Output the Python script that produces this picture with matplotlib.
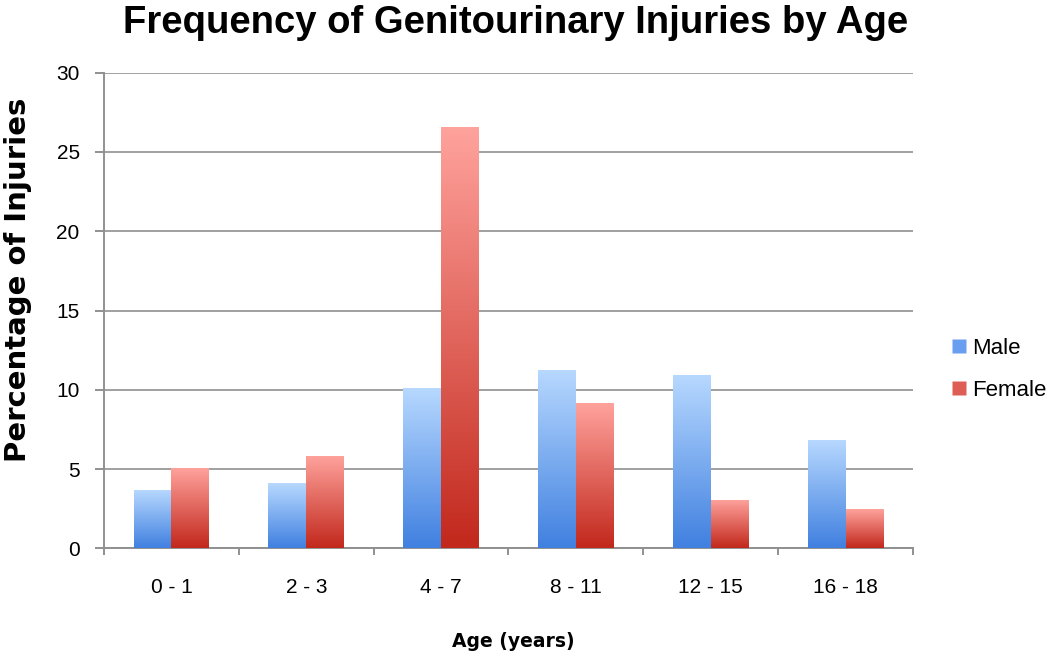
import numpy as np
import matplotlib
matplotlib.use("Agg")
import matplotlib.pyplot as plt
from matplotlib.colors import LinearSegmentedColormap
from matplotlib.lines import Line2D

categories = ["0 - 1", "2 - 3", "4 - 7", "8 - 11", "12 - 15", "16 - 18"]
male = [3.7, 4.1, 10.1, 11.25, 10.95, 6.85]
female = [5.05, 5.85, 26.6, 9.15, 3.05, 2.45]
yticks = [0, 5, 10, 15, 20, 25, 30]

plt.rcParams['font.family'] = ['Liberation Sans', 'DejaVu Sans']

W, H = 1050, 655
fig = plt.figure(figsize=(W / 100, H / 100), dpi=100)
ax = fig.add_axes([104 / W, 1 - 548.3 / H, (913 - 104) / W, (548.3 - 72.7) / H])

x = np.arange(len(categories))
w = 0.28
bm = ax.bar(x - w / 2, male, width=w, color="none", zorder=3)
bf = ax.bar(x + w / 2, female, width=w, color="none", zorder=3)

blue = LinearSegmentedColormap.from_list("b", ["#4080e0", "#b8d9ff"])
red = LinearSegmentedColormap.from_list("r", ["#c2281c", "#ffa39d"])
grad = np.linspace(0, 1, 256).reshape(-1, 1)

def paint(bars, cmap):
    for b in bars:
        x0, y0 = b.get_x(), b.get_y()
        bw, bh = b.get_width(), b.get_height()
        im = ax.imshow(grad, cmap=cmap, origin="lower", aspect="auto",
                       extent=[x0, x0 + bw, y0, y0 + bh], zorder=3,
                       interpolation="bilinear")
        im.set_clip_path(b)

paint(bm, blue)
paint(bf, red)

ax.set_xlim(-0.5, len(categories) - 0.5)
ax.set_ylim(0, 30)
ax.set_yticks(yticks)
ax.set_yticklabels([str(t) for t in yticks], fontsize=15)
ax.yaxis.grid(True, color="#a0a0a0", linewidth=1.4, zorder=0)
ax.set_axisbelow(True)

ax.set_xticks(x)
ax.set_xticklabels(categories, fontsize=15)
ax.tick_params(axis="x", length=0, pad=21.5)
ax.set_xticks(np.arange(-0.5, len(categories), 1.0), minor=True)
ax.tick_params(axis="x", which="minor", length=5, width=1.4, color="#909090")
ax.tick_params(axis="y", length=6.5, width=1.4, color="#909090", pad=11)

for s in ["top", "right"]:
    ax.spines[s].set_visible(False)
for s in ["left", "bottom"]:
    ax.spines[s].set_color("#909090")
    ax.spines[s].set_linewidth(1.4)

fig.text(18.5 / W, 1 - 280 / H, "Percentage of Injuries", rotation=90,
         ha="center", va="center", fontsize=21, fontweight="bold",
         family=["DejaVu Sans"])
fig.text(513 / W, 1 - 647 / H, "Age (years)", ha="center", va="baseline",
         fontsize=13.5, fontweight="bold", family=["DejaVu Sans"])

fig.text(516 / W, 1 - 33 / H, "Frequency of Genitourinary Injuries by Age",
         ha="center", va="baseline", fontsize=27.5, fontweight="bold")

handles = [Line2D([], [], marker="s", linestyle="none", markersize=9.4,
                  markerfacecolor="#6a9ef0", markeredgecolor="none"),
           Line2D([], [], marker="s", linestyle="none", markersize=9.4,
                  markerfacecolor="#de5e55", markeredgecolor="none")]
fig.legend(handles, ["Male", "Female"], loc="upper left",
           bbox_to_anchor=(949.7 / W, 1 - 338 / H), frameon=False, fontsize=16,
           handlelength=0.8, handletextpad=0.2, labelspacing=0.95,
           borderpad=0, borderaxespad=0)

fig.savefig("out.png", dpi=100)
